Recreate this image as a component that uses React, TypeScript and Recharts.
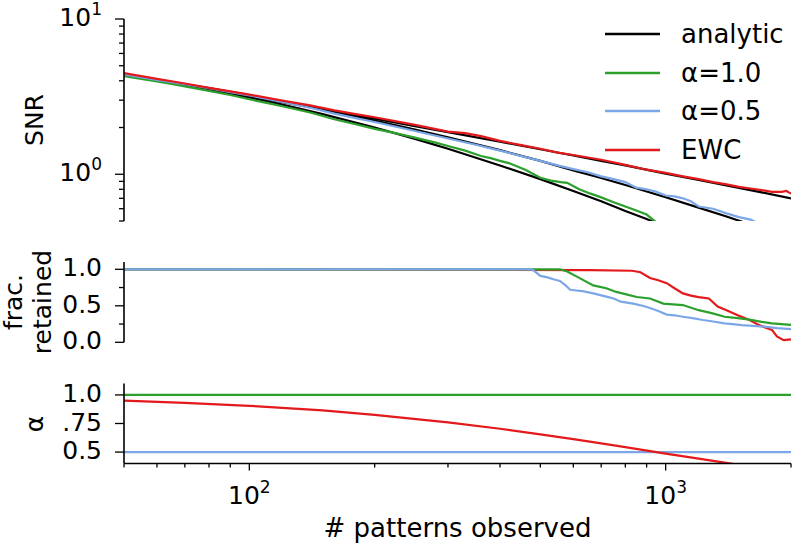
import { LineChart, Line, XAxis, YAxis, Legend } from 'recharts'

const FONT = '"DejaVu Sans", sans-serif'
const BLACK = '#000000'
const GREEN = '#2ca02c'
const BLUE = '#7ba7e8'
const RED = '#e3191c'

// shared x axis (# patterns observed, log scale)
const xDomain = [50, 2000]
const xTicks = [50, 60, 70, 80, 90, 100, 200, 300, 400, 500, 600, 700, 800, 900, 1000, 2000]

// SNR panel, analytic curves
const analyticX1 = [50, 60, 70, 80, 100, 120, 150, 200, 250, 300, 400, 500, 600, 700, 800, 900, 950]
const analyticSnr1 = [4.37, 4.04, 3.76, 3.52, 3.13, 2.81, 2.44, 2.0, 1.69, 1.46, 1.14, 0.93, 0.78, 0.67, 0.58, 0.515, 0.485]
const analyticX05 = [50, 60, 70, 80, 100, 120, 150, 200, 250, 300, 400, 500, 600, 700, 800, 1000, 1200, 1400, 1600]
const analyticSnr05 = [4.37, 4.06, 3.8, 3.59, 3.23, 2.95, 2.62, 2.22, 1.94, 1.73, 1.43, 1.22, 1.06, 0.946, 0.852, 0.711, 0.61, 0.534, 0.474]
const analyticXEwc = [50, 60, 70, 80, 100, 120, 150, 200, 250, 300, 400, 500, 600, 700, 800, 1000, 1200, 1500, 1700, 2000]
const analyticSnrEwc = [4.37, 4.02, 3.75, 3.52, 3.17, 2.91, 2.62, 2.28, 2.04, 1.87, 1.62, 1.45, 1.32, 1.22, 1.14, 1.01, 0.919, 0.817, 0.764, 0.7]

// SNR panel, simulations
const simX1 = [50, 55, 60, 65, 70, 80, 90, 100, 110, 120, 140, 160, 180, 200, 220, 250, 280, 300, 330, 360, 380, 400, 420, 460, 500, 530, 560, 580, 620, 660, 700, 750, 800, 850, 900, 950]
const simSnr1 = [4.28, 4.12, 3.96, 3.82, 3.68, 3.44, 3.24, 3.04, 2.88, 2.74, 2.5, 2.26, 2.1, 1.96, 1.86, 1.72, 1.6, 1.52, 1.42, 1.31, 1.27, 1.22, 1.18, 1.07, 0.95, 0.91, 0.89, 0.88, 0.8, 0.75, 0.71, 0.66, 0.62, 0.585, 0.55, 0.49]
const simX05 = [50, 60, 70, 80, 90, 100, 120, 140, 160, 180, 200, 250, 300, 350, 400, 450, 500, 550, 600, 650, 700, 750, 800, 850, 900, 950, 1000, 1050, 1100, 1150, 1200, 1300, 1400, 1500, 1600, 1650]
const simSnr05 = [4.4, 4.05, 3.8, 3.58, 3.38, 3.22, 2.92, 2.68, 2.46, 2.3, 2.17, 1.9, 1.7, 1.55, 1.42, 1.31, 1.22, 1.14, 1.08, 1.03, 0.97, 0.93, 0.89, 0.82, 0.8, 0.77, 0.73, 0.72, 0.7, 0.67, 0.62, 0.6, 0.56, 0.53, 0.51, 0.49]
const simXEwc = [50, 60, 70, 80, 90, 100, 120, 140, 160, 180, 200, 250, 300, 330, 360, 400, 450, 500, 550, 600, 700, 800, 900, 1000, 1100, 1200, 1300, 1400, 1500, 1600, 1700, 1800, 1900, 1950, 2000]
const simSnrEwc = [4.48, 4.12, 3.84, 3.6, 3.42, 3.26, 2.98, 2.78, 2.58, 2.44, 2.33, 2.08, 1.88, 1.84, 1.76, 1.64, 1.54, 1.46, 1.38, 1.33, 1.24, 1.15, 1.07, 1.02, 0.97, 0.93, 0.89, 0.86, 0.83, 0.81, 0.79, 0.77, 0.77, 0.78, 0.75]
const snrTicks = [0.5, 0.6, 0.7, 0.8, 0.9, 1, 2, 3, 4, 5, 6, 7, 8, 9, 10]

// fraction retained panel
const fracX1 = [50, 557, 580, 612, 670, 720, 761, 800, 852, 917, 987, 1040, 1100, 1200, 1290, 1385, 1490, 1590, 1700, 1800, 1900, 2000]
const frac1 = [1.0, 1.0, 0.97, 0.9, 0.78, 0.74, 0.69, 0.66, 0.62, 0.6, 0.53, 0.52, 0.51, 0.44, 0.4, 0.35, 0.33, 0.31, 0.28, 0.26, 0.25, 0.24]
const fracX05 = [50, 477, 490, 500, 520, 540, 557, 575, 590, 610, 632, 670, 720, 750, 780, 835, 880, 917, 960, 1006, 1050, 1100, 1160, 1230, 1300, 1385, 1450, 1520, 1620, 1730, 1850, 2000]
const frac05 = [1.0, 1.0, 0.95, 0.91, 0.89, 0.86, 0.84, 0.78, 0.72, 0.71, 0.7, 0.67, 0.625, 0.6, 0.556, 0.53, 0.5, 0.47, 0.43, 0.38, 0.37, 0.35, 0.33, 0.305, 0.285, 0.26, 0.25, 0.235, 0.225, 0.215, 0.195, 0.18]
const fracXEwc = [50, 660, 830, 870, 917, 960, 1006, 1050, 1100, 1150, 1200, 1270, 1333, 1400, 1490, 1590, 1670, 1740, 1800, 1850, 1920, 2000]
const fracEwc = [1.0, 0.99, 0.98, 0.96, 0.88, 0.85, 0.81, 0.74, 0.67, 0.64, 0.62, 0.6, 0.49, 0.44, 0.37, 0.305, 0.24, 0.2, 0.17, 0.08, 0.03, 0.04]
const fracTicks = [0, 0.25, 0.5, 0.75, 1.0]

// alpha panel
const alphaX1 = [50, 2000]
const alpha1 = [1.0, 1.0]
const alphaX05 = [50, 2000]
const alpha05 = [0.5, 0.5]
const alphaXEwc = [50, 70, 100, 150, 200, 300, 400, 500, 600, 700, 800, 1000, 1200, 1500, 1700]
const alphaEwc = [0.95, 0.931, 0.905, 0.864, 0.826, 0.76, 0.704, 0.655, 0.613, 0.576, 0.543, 0.487, 0.442, 0.388, 0.358]
const alphaTicks = [0.5, 0.75, 1.0]

const legendNames = ['analytic', 'α=1.0', 'α=0.5', 'EWC']
const legendColors = [BLACK, GREEN, BLUE, RED]

const pts = (xs: number[], ys: number[]) => xs.map((x, i) => ({ x, y: ys[i] }))

const isDecade = (v: number) => Math.abs(Math.log10(v) - Math.round(Math.log10(v))) < 1e-6

const LogYTick = (props: any) => {
  const { x, y, payload } = props
  const v = payload.value
  const major = isDecade(v)
  return (
    <g>
      <line x1={x - (major ? 9 : 5)} x2={x} y1={y} y2={y} stroke={BLACK} strokeWidth={1.3} />
      {major && (
        <text x={x - 22} y={y + 7} textAnchor="end" fontSize={25} fontFamily={FONT} fill={BLACK}>
          10<tspan dy={-11} fontSize={17}>{Math.round(Math.log10(v))}</tspan>
        </text>
      )}
    </g>
  )
}

const makeLinTick = (labels: Record<string, string>) => (props: any) => {
  const { x, y, payload } = props
  const label = labels[String(payload.value)]
  return (
    <g>
      <line x1={x - (label ? 9 : 5)} x2={x} y1={y} y2={y} stroke={BLACK} strokeWidth={1.3} />
      {label && (
        <text x={x - 22} y={y + 7} textAnchor="end" fontSize={25} fontFamily={FONT} fill={BLACK}>
          {label}
        </text>
      )}
    </g>
  )
}

const FracTick = makeLinTick({ '0': '0.0', '0.5': '0.5', '1': '1.0' })
const AlphaTick = makeLinTick({ '0.5': '0.5', '0.75': '.75', '1': '1.0' })

const XTick = (props: any) => {
  const { x, y, payload } = props
  const v = payload.value
  const major = isDecade(v)
  return (
    <g>
      <line x1={x} x2={x} y1={y} y2={y + (major ? 7 : 4)} stroke={BLACK} strokeWidth={1.3} />
      {major && (
        <text x={x} y={y + 40} textAnchor="middle" fontSize={25} fontFamily={FONT} fill={BLACK}>
          10<tspan dy={-11} fontSize={17}>{Math.round(Math.log10(v))}</tspan>
        </text>
      )}
    </g>
  )
}

const vText = (x: number, y: number, s: string, key?: string) => (
  <text key={key} x={x} y={y} transform={`rotate(-90, ${x}, ${y})`} textAnchor="middle" fontSize={25} fontFamily={FONT} fill={BLACK}>
    {s}
  </text>
)

const renderLegend = () => (
  <div style={{ fontFamily: FONT, fontSize: 26, color: BLACK }}>
    {legendNames.map((name, i) => (
      <div key={name} style={{ display: 'flex', alignItems: 'center', height: 38.5 }}>
        <svg width={55} height={4} style={{ marginRight: 21 }}>
          <line x1={0} x2={55} y1={2} y2={2} stroke={legendColors[i]} strokeWidth={2.4} />
        </svg>
        <span>{name}</span>
      </div>
    ))}
  </div>
)

const axisLine = { stroke: BLACK, strokeWidth: 1.6 }
const lineProps = { dataKey: 'y', dot: false, isAnimationActive: false, strokeWidth: 2.2, activeDot: false } as const

export default function App() {
  return (
    <div style={{ position: 'absolute', left: 0, top: 0, width: 793, height: 543, background: '#fff' }}>
      <div style={{ position: 'absolute', left: 0, top: 0 }}>
        <LineChart width={793} height={230} margin={{ top: 19, right: 2, bottom: 9, left: 0 }}>
          <XAxis dataKey="x" type="number" scale="log" domain={xDomain} allowDataOverflow hide />
          <YAxis
            type="number"
            scale="log"
            domain={[0.5, 10]}
            allowDataOverflow
            ticks={snrTicks}
            interval={0}
            width={124}
            tickSize={0}
            tickMargin={0}
            tickLine={false}
            axisLine={axisLine}
            tick={<LogYTick />}
            label={() => vText(43, 120, 'SNR')}
          />
          <Line {...lineProps} data={pts(analyticX1, analyticSnr1)} stroke={BLACK} />
          <Line {...lineProps} data={pts(analyticX05, analyticSnr05)} stroke={BLACK} />
          <Line {...lineProps} data={pts(analyticXEwc, analyticSnrEwc)} stroke={BLACK} />
          <Line {...lineProps} data={pts(simX1, simSnr1)} stroke={GREEN} />
          <Line {...lineProps} data={pts(simX05, simSnr05)} stroke={BLUE} />
          <Line {...lineProps} data={pts(simXEwc, simSnrEwc)} stroke={RED} />
          <Legend
            layout="horizontal"
            align="center"
            verticalAlign="middle"
            content={renderLegend}
            wrapperStyle={{ position: 'absolute', top: 15, left: 605, width: 190 }}
          />
        </LineChart>
      </div>
      <div style={{ position: 'absolute', left: 0, top: 232 }}>
        <LineChart width={793} height={140} margin={{ top: 30, right: 2, bottom: 29.7, left: 0 }}>
          <XAxis dataKey="x" type="number" scale="log" domain={xDomain} allowDataOverflow hide />
          <YAxis
            type="number"
            domain={[0, 1.1]}
            allowDataOverflow
            ticks={fracTicks}
            interval={0}
            width={124}
            tickSize={0}
            tickMargin={0}
            tickLine={false}
            axisLine={axisLine}
            tick={<FracTick />}
            label={() => (
              <g>
                {vText(22, 70, 'frac.', 'a')}
                {vText(51, 70, 'retained', 'b')}
              </g>
            )}
          />
          <Line {...lineProps} data={pts(fracXEwc, fracEwc)} stroke={RED} />
          <Line {...lineProps} data={pts(fracX1, frac1)} stroke={GREEN} />
          <Line {...lineProps} data={pts(fracX05, frac05)} stroke={BLUE} />
        </LineChart>
      </div>
      <div style={{ position: 'absolute', left: 0, top: 373 }}>
        <LineChart width={793} height={170} margin={{ top: 10.5, right: 2, bottom: 0, left: 0 }}>
          <XAxis
            dataKey="x"
            type="number"
            scale="log"
            domain={xDomain}
            allowDataOverflow
            ticks={xTicks}
            interval={0}
            height={79.5}
            tickSize={0}
            tickMargin={0}
            tickLine={false}
            axisLine={axisLine}
            tick={<XTick />}
            label={() => (
              <text x={457.5} y={164} textAnchor="middle" fontSize={26} fontFamily={FONT} fill={BLACK}>
                # patterns observed
              </text>
            )}
          />
          <YAxis
            type="number"
            domain={[0.4, 1.1]}
            allowDataOverflow
            ticks={alphaTicks}
            interval={0}
            width={124}
            tickSize={0}
            tickMargin={0}
            tickLine={false}
            axisLine={axisLine}
            tick={<AlphaTick />}
            label={() => vText(43, 51, 'α')}
          />
          <Line {...lineProps} data={pts(alphaX1, alpha1)} stroke={GREEN} />
          <Line {...lineProps} data={pts(alphaX05, alpha05)} stroke={BLUE} />
          <Line {...lineProps} data={pts(alphaXEwc, alphaEwc)} stroke={RED} />
        </LineChart>
      </div>
    </div>
  )
}
